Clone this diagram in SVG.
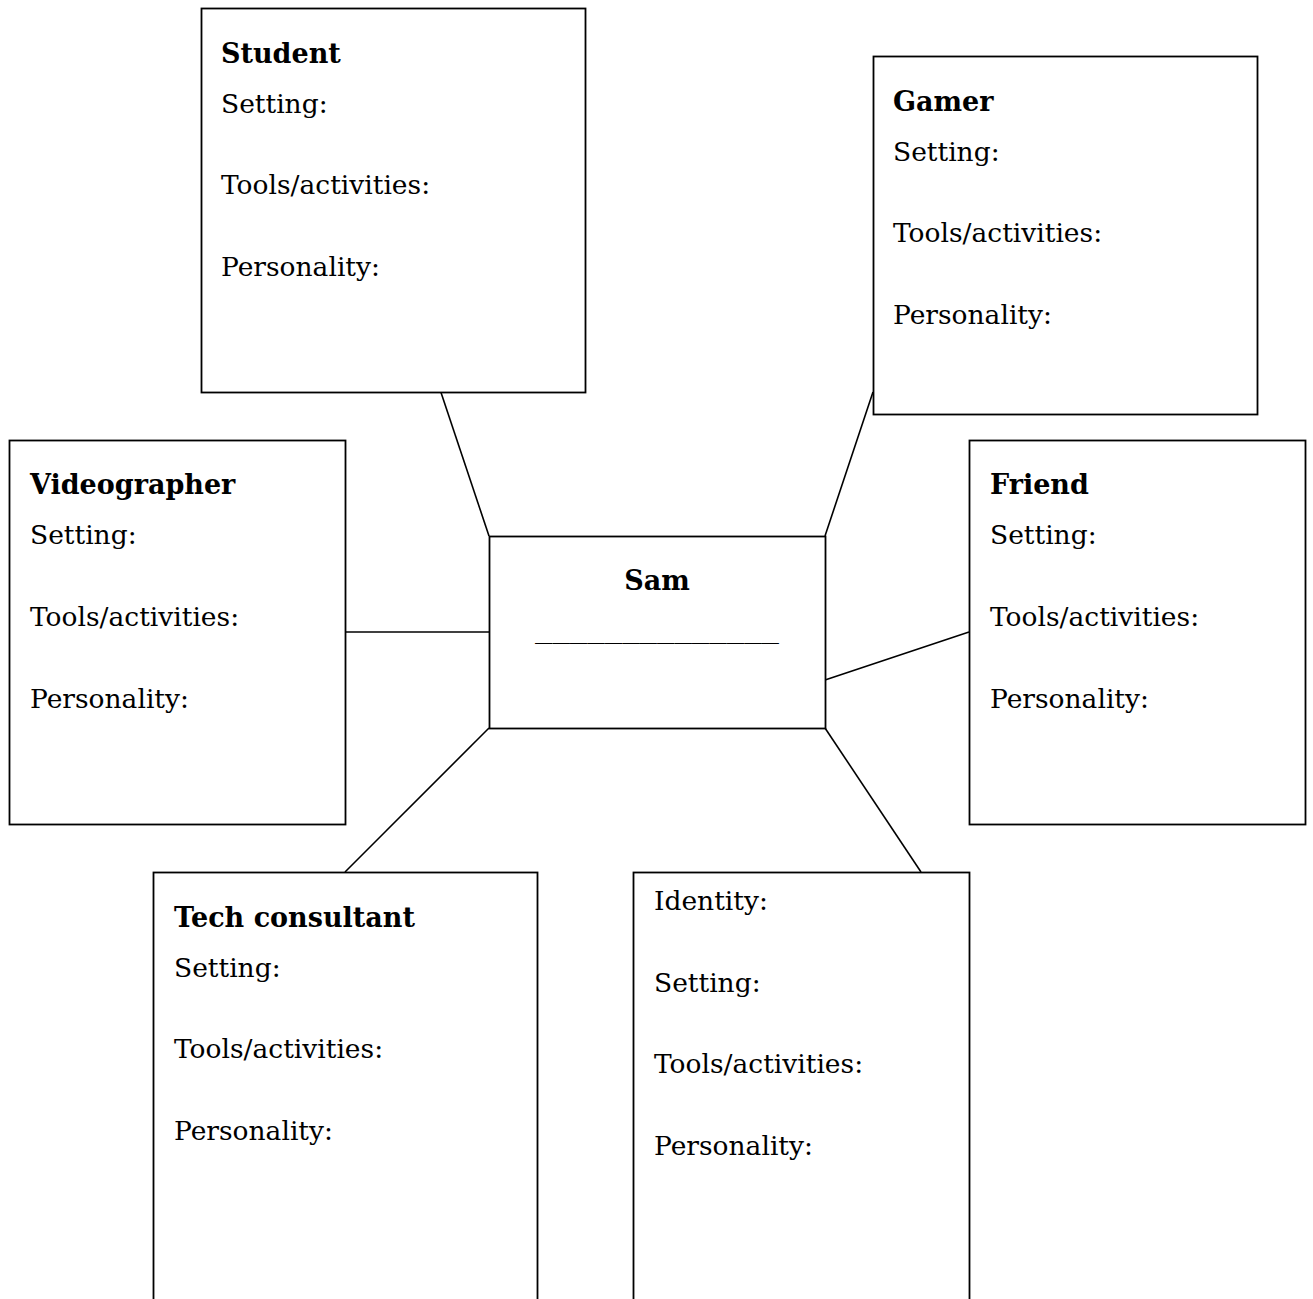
<svg xmlns="http://www.w3.org/2000/svg" width="1313" height="1299" viewBox="0 0 1313 1299">
<style>
.box{fill:#fff;stroke:#000;stroke-width:1.8}
.conn line{stroke:#000;stroke-width:1.6}
text{font-family:"DejaVu Serif","Liberation Serif",serif;font-size:26.5px;fill:#000}
.b{font-weight:bold;font-size:27px}
</style>
<rect width="1313" height="1299" fill="#fff"/>
<g id="connectors" class="conn">
<line x1="441" y1="392.5" x2="489" y2="536"/>
<line x1="873" y1="392" x2="825" y2="536"/>
<line x1="345" y1="632" x2="489" y2="632"/>
<line x1="969" y1="632" x2="825" y2="680"/>
<line x1="489" y1="728" x2="345" y2="872"/>
<line x1="825" y1="728" x2="921" y2="872"/>
</g>
<g id="student">
<rect class="box" x="201.5" y="8.5" width="384" height="384"/>
<text class="b" x="221" y="62.5">Student</text>
<text x="221" y="112.5">Setting:</text>
<text x="221" y="194">Tools/activities:</text>
<text x="221" y="275.5">Personality:</text>
</g>
<g id="gamer">
<rect class="box" x="873.5" y="56.5" width="384" height="358"/>
<text class="b" x="893" y="110.5">Gamer</text>
<text x="893" y="160.5">Setting:</text>
<text x="893" y="242">Tools/activities:</text>
<text x="893" y="323.5">Personality:</text>
</g>
<g id="videographer">
<rect class="box" x="9.5" y="440.5" width="336" height="384"/>
<text class="b" x="30" y="493.5">Videographer</text>
<text x="30" y="543.5">Setting:</text>
<text x="30" y="625.5">Tools/activities:</text>
<text x="30" y="707.5">Personality:</text>
</g>
<g id="friend">
<rect class="box" x="969.5" y="440.5" width="336" height="384"/>
<text class="b" x="990" y="493.5">Friend</text>
<text x="990" y="543.5">Setting:</text>
<text x="990" y="625.5">Tools/activities:</text>
<text x="990" y="707.5">Personality:</text>
</g>
<g id="sam">
<rect class="box" x="489.5" y="536.5" width="336" height="192"/>
<text class="b" x="657" y="590" text-anchor="middle">Sam</text>
<text x="535" y="638" textLength="244" lengthAdjust="spacingAndGlyphs">______________</text>
</g>
<g id="tech-consultant">
<rect class="box" x="153.5" y="872.5" width="384" height="440"/>
<text class="b" x="174" y="926.5">Tech consultant</text>
<text x="174" y="976.5">Setting:</text>
<text x="174" y="1058">Tools/activities:</text>
<text x="174" y="1139.5">Personality:</text>
</g>
<g id="identity">
<rect class="box" x="633.5" y="872.5" width="336" height="440"/>
<text x="654" y="910">Identity:</text>
<text x="654" y="991.5">Setting:</text>
<text x="654" y="1073">Tools/activities:</text>
<text x="654" y="1155">Personality:</text>
</g>
</svg>
